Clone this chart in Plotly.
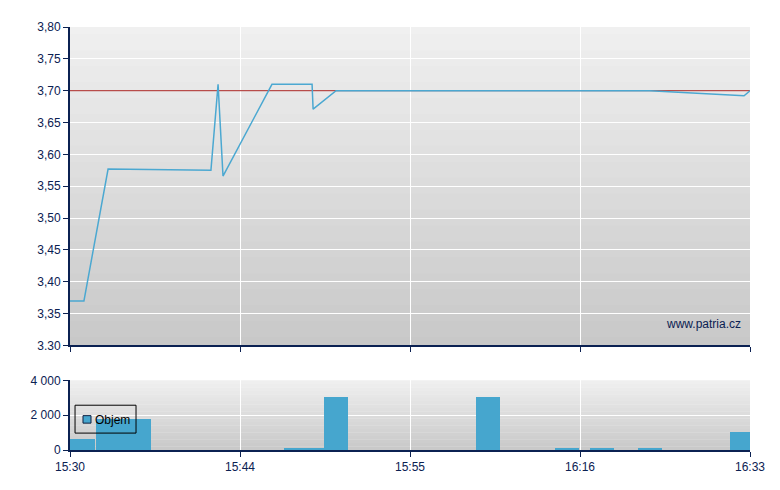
import plotly.graph_objects as go

# ---- data ----
tick_pos = [0, 1, 2, 3, 4]
tick_labels = ["15:30", "15:44", "15:55", "16:16", "16:33"]

# price series: position along the session axis (tick-interval units) and price
price_x = [0.0, 0.082, 0.224, 0.829, 0.871, 0.900, 1.188, 1.424, 1.430, 1.565, 3.41, 3.965, 4.0]
price_y = [3.370, 3.370, 3.577, 3.575, 3.710, 3.566, 3.710, 3.710, 3.671, 3.700, 3.700, 3.692, 3.700]
ref_price = 3.70

price_ticks = [3.30, 3.35, 3.40, 3.45, 3.50, 3.55, 3.60, 3.65, 3.70, 3.75, 3.80]
price_tick_labels = ["3.30", "3,35", "3,40", "3,45", "3,50", "3,55", "3,60", "3,65", "3,70", "3,75", "3,80"]

# volume bins: start / end along session axis, volume
vol_start = [0.0, 0.153, 1.259, 1.494, 2.388, 2.853, 3.059, 3.341, 3.882]
vol_end = [0.147, 0.476, 1.494, 1.635, 2.529, 2.994, 3.200, 3.482, 4.0]
vol_val = [630, 1770, 40, 3030, 3030, 40, 40, 40, 1030]
vol_ticks = [0, 2000, 4000]
vol_tick_labels = ["0", "2 000", "4 000"]
vol_name = "Objem"

# ---- style ----
NAVY = "#0b2152"
LINE_BLUE = "#4ba8d1"
BAR_BLUE = "#46a6ce"
REF_RED = "#a82420"
FONT = "Liberation Sans, Arial, sans-serif"

fig = go.Figure()

# reference (previous close) line across the whole session
fig.add_trace(go.Scatter(
    x=[tick_pos[0], tick_pos[-1]], y=[ref_price, ref_price], mode="lines",
    line=dict(color=REF_RED, width=1),
    xaxis="x2", yaxis="y2", showlegend=False, hoverinfo="skip",
))

fig.add_trace(go.Scatter(
    x=price_x, y=price_y, mode="lines",
    line=dict(color=LINE_BLUE, width=1.5),
    xaxis="x2", yaxis="y2", showlegend=False, hoverinfo="skip",
))

centers = [(a + b) / 2 for a, b in zip(vol_start, vol_end)]
widths = [b - a for a, b in zip(vol_start, vol_end)]
fig.add_trace(go.Bar(
    x=centers, y=vol_val, width=widths, name=vol_name,
    marker=dict(color=BAR_BLUE, line=dict(width=0)),
    xaxis="x", yaxis="y", showlegend=False,
))

shapes = []
def gradient(xref, yref, top, bottom, n=40):
    for i in range(n):
        t = (i + 0.5) / n
        c = [round(top[k] + (bottom[k] - top[k]) * t) for k in range(3)]
        y1 = 1 - i / n
        y0 = 1 - (i + 1) / n
        shapes.append(dict(type="rect", xref=xref, yref=yref, x0=0, x1=1,
                           y0=max(0, y0 - 0.002), y1=min(1, y1 + 0.002),
                           fillcolor="rgb(%d,%d,%d)" % tuple(c),
                           line=dict(width=0), layer="below"))

gradient("x2 domain", "y2 domain", (240, 240, 240), (200, 200, 200))
gradient("x domain", "y domain", (240, 240, 240), (200, 200, 200), n=20)

# legend box (drawn manually to match the compact original)
shapes.append(dict(type="rect", xref="paper", yref="paper",
                   x0=0.0074, x1=0.0971, y0=0.040, y1=0.1059,
                   line=dict(color="black", width=1), fillcolor="rgba(0,0,0,0)",
                   layer="above"))
shapes.append(dict(type="rect", xref="paper", yref="paper",
                   x0=0.0191, x1=0.0309, y0=0.0635, y1=0.0812,
                   line=dict(color="#102040", width=1), fillcolor=BAR_BLUE,
                   layer="above"))

axis_common = dict(
    showline=True, linecolor=NAVY, linewidth=2,
    ticks="outside", ticklen=5, tickwidth=1, tickcolor=NAVY,
    showgrid=True, gridcolor="white", gridwidth=1.3,
    zeroline=False, tickfont=dict(family=FONT, size=12, color=NAVY),
)

fig.update_layout(
    width=772, height=482,
    margin=dict(l=62, r=30, t=17, b=40),
    paper_bgcolor="white", plot_bgcolor="rgba(0,0,0,0)",
    font=dict(family=FONT, size=12, color=NAVY),
    shapes=shapes,
    bargap=0,
    showlegend=False,
    xaxis=dict(axis_common, domain=[0, 1], range=[0, 4], anchor="y",
               tickmode="array", tickvals=tick_pos, ticktext=tick_labels),
    xaxis2=dict(axis_common, domain=[0, 1], range=[0, 4], anchor="y2",
                tickmode="array", tickvals=tick_pos, showticklabels=False,
                matches="x"),
    yaxis=dict(axis_common, domain=[0, 0.1647], range=[0, 4000], anchor="x",
               tickmode="array", tickvals=vol_ticks, ticktext=vol_tick_labels),
    yaxis2=dict(axis_common, domain=[0.2471, 1], range=[3.30, 3.80], anchor="x2",
                tickmode="array", tickvals=price_ticks, ticktext=price_tick_labels),
    annotations=[
        dict(text="www.patria.cz", xref="x2 domain", yref="y2 domain",
             x=0.99, y=0.069, xanchor="right", yanchor="middle",
             showarrow=False, font=dict(family=FONT, size=12, color=NAVY)),
        dict(text=vol_name, xref="paper", yref="paper",
             x=0.0345, y=0.0706, xanchor="left", yanchor="middle",
             showarrow=False, font=dict(family=FONT, size=12, color="black")),
    ],
)

fig.write_html("out.html")
